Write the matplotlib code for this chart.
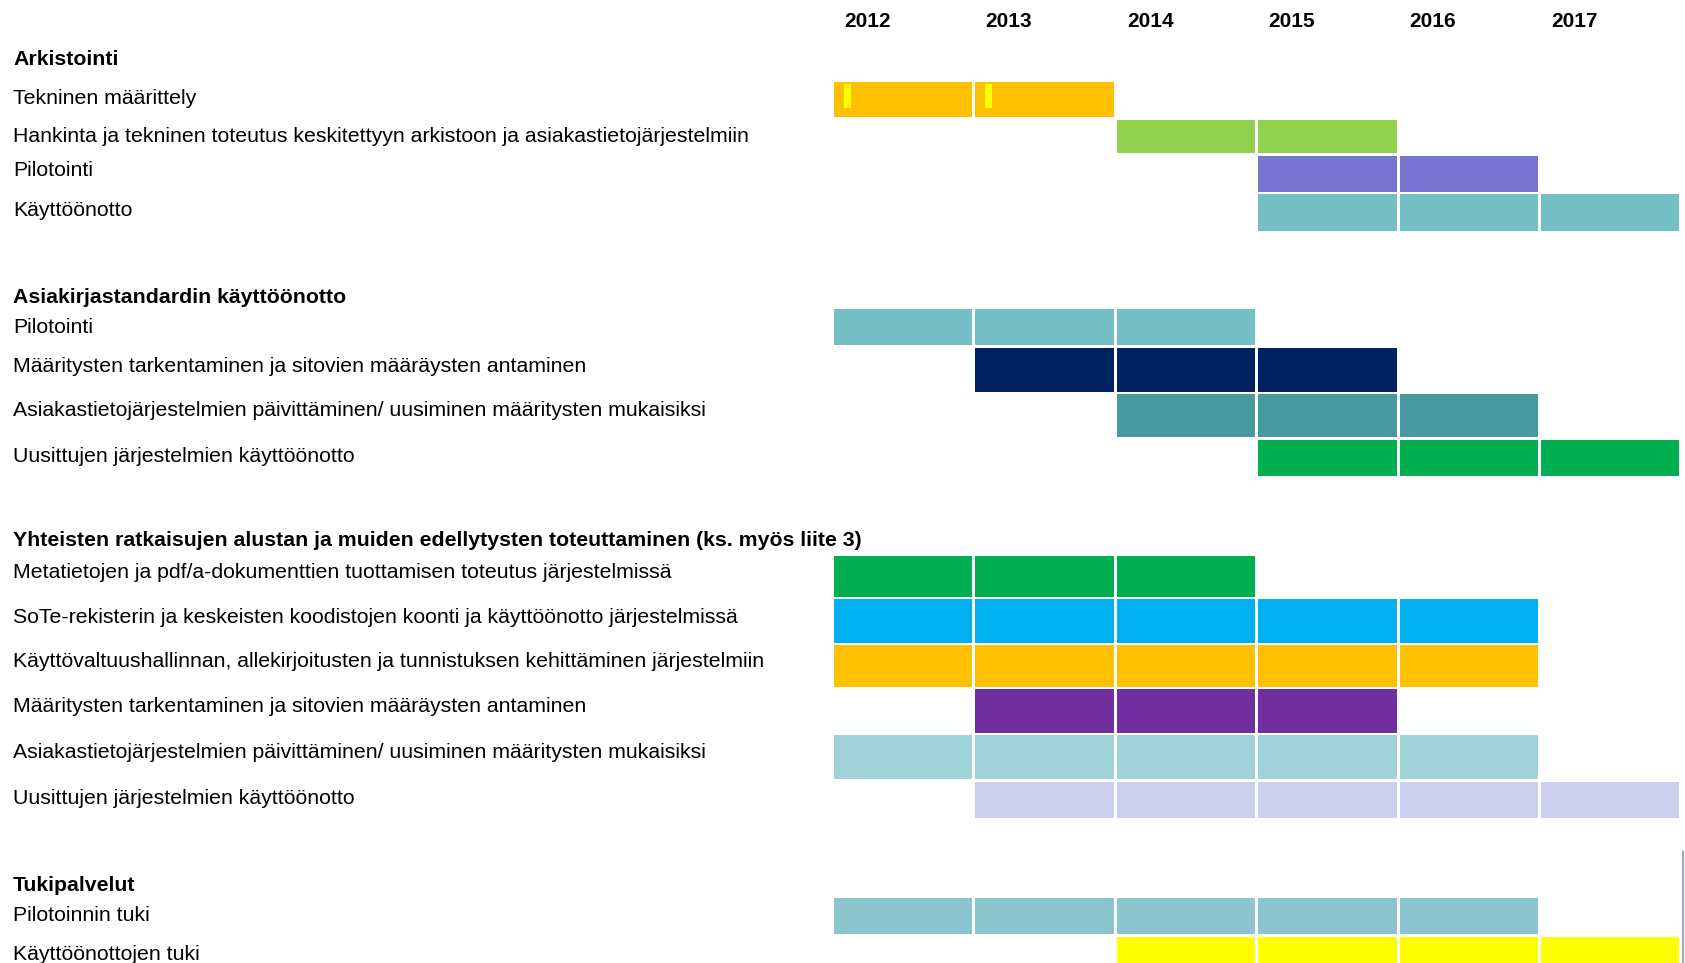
import matplotlib
matplotlib.use("Agg")
import matplotlib.pyplot as plt
from matplotlib.lines import Line2D

plt.rcParams['font.family'] = ['Liberation Sans', 'DejaVu Sans']

# ---------------- data ----------------
years = [2012, 2013, 2014, 2015, 2016, 2017]

group_titles = [
    "Arkistointi",
    "Asiakirjastandardin käyttöönotto",
    "Yhteisten ratkaisujen alustan ja muiden edellytysten toteuttaminen (ks. myös liite 3)",
    "Tukipalvelut",
]

task_labels = [
    "Tekninen määrittely",
    "Hankinta ja tekninen toteutus keskitettyyn arkistoon ja asiakastietojärjestelmiin",
    "Pilotointi",
    "Käyttöönotto",
    "Pilotointi",
    "Määritysten tarkentaminen ja sitovien määräysten antaminen",
    "Asiakastietojärjestelmien päivittäminen/ uusiminen määritysten mukaisiksi",
    "Uusittujen järjestelmien käyttöönotto",
    "Metatietojen ja pdf/a-dokumenttien tuottamisen toteutus järjestelmissä",
    "SoTe-rekisterin ja keskeisten koodistojen koonti ja käyttöönotto järjestelmissä",
    "Käyttövaltuushallinnan, allekirjoitusten ja tunnistuksen kehittäminen järjestelmiin",
    "Määritysten tarkentaminen ja sitovien määräysten antaminen",
    "Asiakastietojärjestelmien päivittäminen/ uusiminen määritysten mukaisiksi",
    "Uusittujen järjestelmien käyttöönotto",
    "Pilotoinnin tuki",
    "Käyttöönottojen tuki",
]

task_start = [2012, 2014, 2015, 2015, 2012, 2013, 2014, 2015,
              2012, 2012, 2012, 2013, 2012, 2013, 2012, 2014]
task_end = [2013, 2015, 2016, 2017, 2014, 2015, 2016, 2017,
            2014, 2016, 2016, 2015, 2016, 2017, 2016, 2017]

task_colors = [
    "#FFC000", "#92D050", "#7775D0", "#74BFC5",
    "#74BFC5", "#002060", "#4898A0", "#00B050",
    "#00B050", "#00B0F0", "#FFC000", "#7030A0",
    "#A0D3D8", "#CDCFEE", "#8BC6CE", "#FFFF00",
]

# small yellow markers inside "Tekninen määrittely"
marker_years = [2012, 2013]
marker_color = "#FFFF00"

# ---------------- layout (pixels) ----------------
W, H = 1685, 963
col_x0 = 832.5       # pixel of the 2012 column boundary
col_pitch = 141.4    # pixels per year
gap_px = 3.0

row_top = [82, 120, 156, 194, 309.5, 348, 394, 440,
           556, 599, 645, 689, 735, 782, 898, 937]
row_bot = [117, 153, 192, 231, 345, 392, 437, 476,
           597.5, 643, 687, 733, 779, 818, 934, 975]

title_baseline = [65, 303, 546, 891]
label_baseline = [104.5, 142, 176.5, 216, 333, 372, 415.5, 462,
                  578, 623, 667, 712.5, 757.5, 804, 921, 959.5]
text_x = 13
year_baseline = 27
fs = 15.3

fig = plt.figure(figsize=(W / 100, H / 100), dpi=100)
ax = fig.add_axes([0, 0, 1, 1])
xmin = years[0] - col_x0 / col_pitch
xmax = years[0] + (W - col_x0) / col_pitch
ax.set_xlim(xmin, xmax)
ax.set_ylim(H, 0)
ax.axis('off')

gap = gap_px / col_pitch
for i in range(len(task_labels)):
    ys = list(range(task_start[i], task_end[i] + 1))
    top, bot = row_top[i], row_bot[i]
    ax.barh([(top + bot) / 2] * len(ys), [1 - gap] * len(ys),
            left=[y + gap / 2 for y in ys], height=bot - top,
            color=task_colors[i], edgecolor='none')

# yellow markers
m_off0 = 11.5 / col_pitch
m_w = 7 / col_pitch
ax.barh([96] * len(marker_years), [m_w] * len(marker_years),
        left=[y + m_off0 for y in marker_years], height=24,
        color=marker_color, edgecolor='none')

# year labels
for y in years:
    ax.text(y + 11.5 / col_pitch, year_baseline, str(y), fontsize=15,
            fontweight='bold', ha='left', va='baseline')

def px_to_x(px):
    return xmin + px / col_pitch

for t, b in zip(group_titles, title_baseline):
    ax.text(px_to_x(text_x), b, t, fontsize=fs, fontweight='bold',
            ha='left', va='baseline')
for t, b in zip(task_labels, label_baseline):
    ax.text(px_to_x(text_x), b, t, fontsize=fs, ha='left', va='baseline')

# thin frame fragment at the bottom right edge
fig.add_artist(Line2D([1683 / W, 1683 / W], [0, 1 - 852 / H],
                      color="#A0A4C8", linewidth=1.5))

fig.savefig("out.png", dpi=100, facecolor='white')
